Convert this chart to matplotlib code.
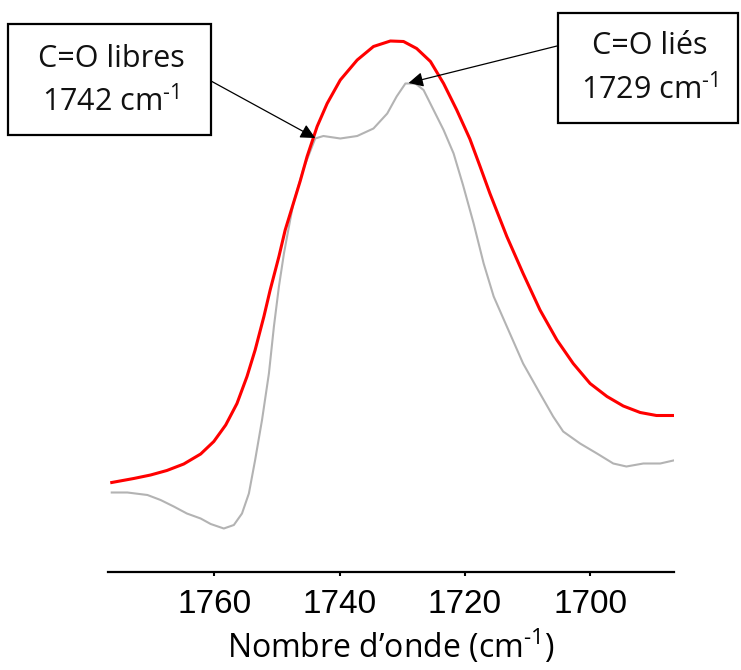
import matplotlib
matplotlib.use('Agg')
import matplotlib.pyplot as plt
from matplotlib.patches import Rectangle

plt.rcParams['font.family'] = ['Open Sans', 'DejaVu Sans']
plt.rcParams['mathtext.fontset'] = 'custom'
plt.rcParams['mathtext.rm'] = 'Open Sans'
plt.rcParams['mathtext.it'] = 'Open Sans:italic'
plt.rcParams['mathtext.bf'] = 'Open Sans:bold'

# spectre ajuste (rouge)
wn_fit = [1776.4, 1772.9, 1770.2, 1767.6, 1764.9, 1762.2, 1760.1, 1758.2, 1756.4,
          1754.8, 1753.5, 1752.1, 1751.1, 1749.7, 1748.7, 1747.4, 1746.3, 1745.2,
          1743.6, 1742.0, 1739.9, 1737.2, 1734.6, 1731.9, 1729.8, 1727.7, 1725.5,
          1723.4, 1721.3, 1719.2, 1717.6, 1716.0, 1713.3, 1710.7, 1708.0, 1705.3,
          1702.7, 1700.0, 1697.3, 1694.7, 1692.0, 1689.4, 1686.7]
abs_fit = [0.179, 0.187, 0.194, 0.203, 0.216, 0.236, 0.261, 0.294, 0.337,
           0.391, 0.444, 0.511, 0.564, 0.631, 0.684, 0.737, 0.782, 0.831,
           0.891, 0.937, 0.984, 1.024, 1.051, 1.062, 1.061, 1.047, 1.021,
           0.977, 0.924, 0.866, 0.812, 0.757, 0.671, 0.597, 0.524, 0.464,
           0.417, 0.377, 0.351, 0.332, 0.319, 0.313, 0.313]

# spectre experimental (gris)
wn_exp = [1776.4, 1773.9, 1770.7, 1768.6, 1766.5, 1764.4, 1762.2, 1760.6, 1758.5,
          1756.9, 1755.6, 1754.5, 1753.5, 1752.4, 1751.3, 1750.5, 1749.7, 1748.9,
          1748.1, 1747.4, 1746.3, 1745.8, 1743.9, 1742.6, 1739.9, 1737.2, 1734.6,
          1732.4, 1730.9, 1729.5, 1727.9, 1726.6, 1725.0, 1723.4, 1721.8, 1720.3,
          1718.6, 1717.0, 1715.4, 1713.3, 1710.7, 1708.0, 1705.9, 1704.3, 1701.6,
          1698.9, 1696.3, 1694.2, 1691.5, 1688.8, 1686.7]
abs_exp = [0.159, 0.159, 0.154, 0.144, 0.131, 0.117, 0.107, 0.096, 0.087,
           0.094, 0.117, 0.157, 0.224, 0.304, 0.397, 0.491, 0.571, 0.637,
           0.691, 0.737, 0.784, 0.806, 0.867, 0.872, 0.867, 0.872, 0.887,
           0.917, 0.951, 0.977, 0.977, 0.964, 0.924, 0.884, 0.837, 0.774,
           0.697, 0.617, 0.551, 0.491, 0.417, 0.357, 0.311, 0.281, 0.257,
           0.237, 0.217, 0.211, 0.217, 0.217, 0.223]

xticks = [1760, 1740, 1720, 1700]
xtick_labels = ['1760', '1740', '1720', '1700']

# pics annotes
peak_free = (1743.9, 0.868)
peak_bound = (1729.0, 0.978)

fig = plt.figure(figsize=(7.41, 6.70), dpi=100)
ax = fig.add_axes([108 / 741, 1 - 572 / 670, 566 / 741, 542 / 670])

ax.plot(wn_exp, abs_exp, color='#b3b3b3', lw=1.5, solid_joinstyle='round')
ax.plot(wn_fit, abs_fit, color='#ff0000', lw=2.2, solid_joinstyle='round')

ax.set_xlim(1777, 1686.6)
ax.set_ylim(0, 1.084)
ax.set_xticks(xticks)
ax.set_xticklabels(xtick_labels, fontfamily='Liberation Sans', fontsize=24)
ax.set_yticks([])
for s in ['top', 'right', 'left']:
    ax.spines[s].set_visible(False)
ax.spines['bottom'].set_linewidth(1.6)
ax.tick_params(axis='x', direction='out', length=3, width=1.5, pad=9)
ax.set_xlabel('Nombre d\u2019onde (cm$^{\\text{-}1}$)', fontsize=23, labelpad=6)


def label_box(x0, y0, x1, y1, lines, cx, ys):
    W, H = 741, 670
    fig.patches.append(Rectangle((x0 / W, 1 - y1 / H), (x1 - x0) / W, (y1 - y0) / H,
                                 transform=fig.transFigure, fill=True,
                                 facecolor='white', edgecolor='black', lw=1.6,
                                 zorder=5))
    for t, y in zip(lines, ys):
        fig.text(cx / W, 1 - y / H, t, ha='center', va='center', fontsize=22,
                 color='#111111', zorder=6)


def arrow(start_px, tip):
    ax.annotate('', xy=tip, xycoords='data',
                xytext=(start_px[0] / 741, 1 - start_px[1] / 670),
                textcoords='figure fraction',
                arrowprops=dict(arrowstyle='-|>', color='black', lw=0.9,
                                mutation_scale=22, shrinkA=0, shrinkB=0))


label_box(8, 24, 211, 135, ['C=O libres', '1742 cm$^{\\text{-}1}$'], 111, [59, 102])
label_box(558, 13, 738, 123, ['C=O li\u00e9s', '1729 cm$^{\\text{-}1}$'], 650, [46, 90])
arrow((211, 81), peak_free)
arrow((557, 46), peak_bound)

plt.savefig('out.png', dpi=100)
